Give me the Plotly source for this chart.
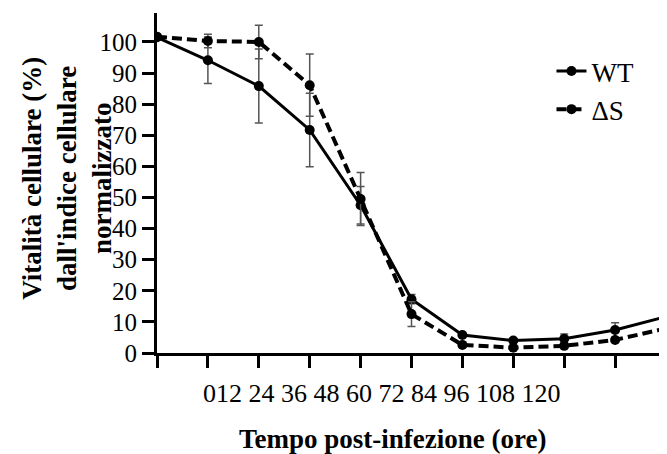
import plotly.graph_objects as go

hours = [0, 12, 24, 36, 48, 60, 72, 84, 96, 108, 120]
tick_labels = ["0", "12", "24", "36", "48", "60", "72", "84", "96", "108", "120"]
wt = [101.5, 94.1, 85.8, 71.7, 47.5, 17.3, 5.8, 4.0, 4.6, 7.4, 11.7]
wt_err = [0.5, 7.5, 11.9, 11.8, 6.0, 1.5, 0.5, 0.5, 1.5, 2.3, 3.2]
ds = [101.7, 100.3, 100.0, 86.1, 49.5, 12.5, 2.6, 1.7, 2.3, 4.2, 7.9]
ds_err = [0.5, 2.2, 5.4, 10.0, 8.5, 4.0, 0.5, 0.5, 0.5, 0.5, 1.0]
y_ticks = list(range(0, 101, 10))

FONT = "Liberation Serif"

fig = go.Figure()
fig.add_trace(go.Scatter(
    x=hours, y=wt, name="WT", mode="lines+markers",
    line=dict(color="black", width=3),
    marker=dict(color="black", size=10, symbol="circle"),
    error_y=dict(type="data", array=wt_err, color="#555555", thickness=1.5, width=4),
))
fig.add_trace(go.Scatter(
    x=hours, y=ds, name="ΔS", mode="lines+markers",
    line=dict(color="black", width=4, dash="10px,5px"),
    marker=dict(color="black", size=10, symbol="circle"),
    error_y=dict(type="data", array=ds_err, color="#555555", thickness=1.5, width=4),
))

fig.update_layout(
    width=659, height=446,
    margin=dict(l=149, r=1, t=5, b=101),
    paper_bgcolor="white", plot_bgcolor="white",
    font=dict(family=FONT, color="black", size=25),
    showlegend=True,
    legend=dict(x=0.775, y=0.9, xanchor="left", yanchor="top",
                font=dict(size=27, family=FONT), bgcolor="rgba(0,0,0,0)",
                tracegroupgap=0),
)
fig.update_xaxes(
    range=[0, 120], tickvals=hours, showticklabels=False,
    showline=True, linecolor="black", linewidth=3,
    ticks="outside", ticklen=12, tickwidth=3, tickcolor="black",
    showgrid=False, zeroline=False,
)
fig.update_yaxes(
    range=[0, 109.3], tickvals=y_ticks, ticktext=[str(v) for v in y_ticks],
    showline=True, linecolor="black", linewidth=3,
    ticks="outside", ticklen=12, tickwidth=3, tickcolor="black",
    tickfont=dict(size=25, family=FONT),
    showgrid=False, zeroline=False,
)

# x tick labels as in reference (one text run)
fig.add_annotation(
    text=tick_labels[0] + " ".join(tick_labels[1:]),
    xref="paper", yref="paper", x=0.442, y=-0.118,
    xanchor="center", yanchor="middle", showarrow=False,
    font=dict(size=26, family=FONT),
)
fig.add_annotation(
    text="<b>Tempo post-infezione (ore)</b>",
    xref="paper", yref="paper", x=0.462, y=-0.253,
    xanchor="center", yanchor="middle", showarrow=False,
    font=dict(size=27, family=FONT),
)
fig.add_annotation(
    text="<b>Vitalità cellulare (%)<br>dall'indice cellulare<br>normalizzato</b>",
    xref="paper", yref="paper", x=-0.177, y=0.515,
    xanchor="center", yanchor="middle", showarrow=False, textangle=-90,
    font=dict(size=27, family=FONT),
)

fig.write_html("out.html")
